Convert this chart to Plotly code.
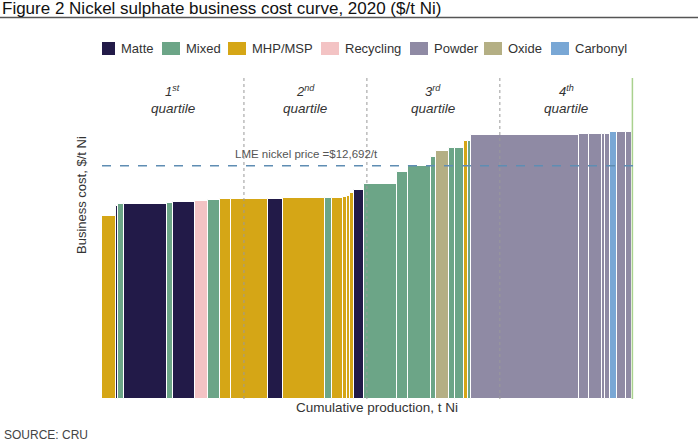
import numpy as np
import plotly.graph_objects as go

# Nickel sulphate feed assets in cost order: production (kt Ni) and business cost ($/t Ni)
volumes = [7.0, 1.0, 2.9, 21.4, 3.0, 11.2, 6.3, 6.4, 5.2, 18.6, 7.5, 20.9, 3.8, 5.3, 1.8, 1.7,
           2.2, 4.9, 16.3, 5.6, 11.5, 2.5, 6.6, 2.8, 4.8, 1.8, 1.8, 53.9, 4.7, 6.5, 1.5, 2.9,
           3.5, 4.2, 3.3]
costs = [9950, 10500, 10610, 10590, 10650, 10730, 10790, 10830, 10880, 10880, 10900, 10920,
         10920, 10920, 10970, 11040, 11190, 11370, 11680, 12350, 12680, 13150, 13490, 13670,
         13670, 14020, 14050, 14380, 14430, 14430, 14430, 14430, 14520, 14520, 14520]
feeds = ["MHP/MSP", "Matte", "Mixed", "Matte", "Mixed", "Matte", "Recycling", "Mixed",
         "MHP/MSP", "MHP/MSP", "Matte", "MHP/MSP", "Mixed", "MHP/MSP", "MHP/MSP", "MHP/MSP",
         "MHP/MSP", "Matte", "Mixed", "Mixed", "Mixed", "Mixed", "Oxide", "Mixed", "Mixed",
         "MHP/MSP", "Mixed", "Powder", "Powder", "Powder", "Powder", "Powder", "Carbonyl",
         "Powder", "Powder"]

feed_types = ["Matte", "Mixed", "MHP/MSP", "Recycling", "Powder", "Oxide", "Carbonyl"]
feed_colors = ["#221a48", "#6ca587", "#d5a616", "#f3c3c4", "#8f8aa4", "#b4af84", "#79a7d5"]

lme_price = 12692
quartile_breaks = [71, 132.5, 199]
quartile_names = ["1<sup>st</sup>", "2<sup>nd</sup>", "3<sup>rd</sup>", "4<sup>th</sup>"]

# page geometry (px)
W, H = 698, 442
L, R, T, B = 102, 63, 78, 43
pw, ph = W - L - R, H - T - B


def px(x):
    return (x - L) / pw


def py(y):
    return (H - B - y) / ph


vol = np.array(volumes)
right = np.cumsum(vol)
centre = right - vol / 2
total = right[-1]

fig = go.Figure()
for name, col in zip(feed_types, feed_colors):
    idx = [i for i, f in enumerate(feeds) if f == name]
    fig.add_trace(go.Bar(
        x=centre[idx], y=[costs[i] for i in idx], width=vol[idx],
        name=name, marker=dict(color=col, line=dict(color="white", width=1)),
        showlegend=False,
    ))

shapes = []
annotations = []


def note(text, x, y, size, color="#333333", xref="paper", yref="paper", **kw):
    d = dict(x=x, y=y, xref=xref, yref=yref, text=text, showarrow=False,
             xanchor="center", yanchor="middle", font=dict(size=size, color=color))
    d.update(kw)
    annotations.append(d)


# quartile boundaries
for q in quartile_breaks:
    shapes.append(dict(type="line", xref="x", yref="paper", x0=q, x1=q, y0=0, y1=1,
                       line=dict(color="#9a9a9a", width=1, dash="dot")))
shapes.append(dict(type="line", xref="x", yref="paper", x0=total, x1=total, y0=0, y1=1,
                   line=dict(color="#a9d18e", width=1.5)))

edges = [0] + quartile_breaks + [total]
for i, lab in enumerate(quartile_names):
    mid = (edges[i] + edges[i + 1]) / 2
    note("<i>%s</i>" % lab, mid, py(91), 13, xref="x")
    note("<i>quartile</i>", mid, py(108), 13.5, xref="x")

# LME price line
shapes.append(dict(type="line", xref="paper", yref="y", x0=0, x1=1, y0=lme_price, y1=lme_price,
                   line=dict(color="#5f8db3", width=1.5, dash="dash")))
note("LME nickel price =$12,692/t", px(306), lme_price, 11.5, color="#555555", yref="y", yshift=12)

# legend drawn by hand
swatch_left = [102, 162, 228, 321, 410, 484, 551]
for name, col, x0 in zip(feed_types, feed_colors, swatch_left):
    sw = 13 if name == "Matte" else 18
    shapes.append(dict(type="rect", xref="paper", yref="paper", x0=px(x0), x1=px(x0 + sw),
                       y0=py(55), y1=py(42), fillcolor=col, line=dict(width=0)))
    note(name, px(x0 + sw + 4), py(48.5), 13, xanchor="left")

# axis titles and source
note("Business cost, $/t Ni", px(81), py(195), 13, textangle=-90)
note("Cumulative production, t Ni", px(377), py(408), 13.5)
note("SOURCE: CRU", px(2), py(434.5), 12, color="#444444", xanchor="left")

# rule under the title
shapes.append(dict(type="line", xref="paper", yref="paper", x0=px(0), x1=px(W), y0=py(17.5), y1=py(17.5),
                   line=dict(color="#555555", width=1.5)))

fig.update_layout(
    width=W, height=H,
    margin=dict(l=L, r=R, t=T, b=B, autoexpand=False),
    paper_bgcolor="white", plot_bgcolor="white",
    font=dict(family="Liberation Sans, Arial, sans-serif"),
    title=dict(text="Figure 2 Nickel sulphate business cost curve, 2020 ($/t Ni)",
               x=2 / W, xref="container", xanchor="left",
               y=1 - 2 / H, yref="container", yanchor="top",
               font=dict(size=17, color="#111111")),
    barmode="overlay",
    bargap=0,
    xaxis=dict(range=[0, 266.6], showgrid=False, zeroline=False, showticklabels=False,
               ticks="", showline=False),
    yaxis=dict(range=[0, 54.4 * ph], showgrid=False, zeroline=False, showticklabels=False,
               ticks="", showline=False),
    shapes=shapes,
    annotations=annotations,
)

fig.write_html("out.html", config={"displayModeBar": False},
               post_script="document.body.style.margin='0';")
